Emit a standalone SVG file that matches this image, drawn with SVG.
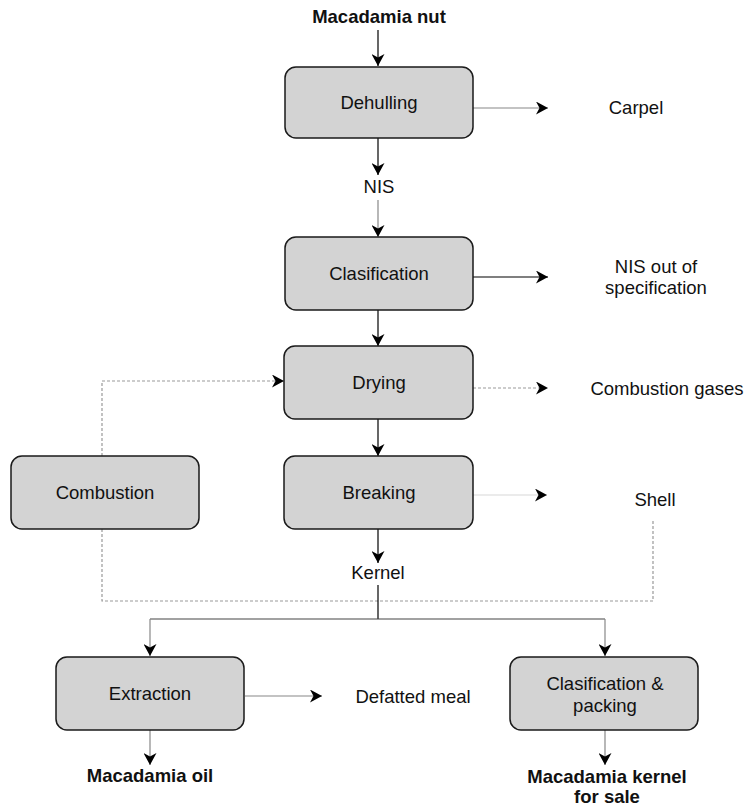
<svg xmlns="http://www.w3.org/2000/svg" width="748" height="807" viewBox="0 0 748 807">
<defs>
<marker id="ah" viewBox="0 0 12 13" refX="12" refY="6.5" markerWidth="12" markerHeight="13" markerUnits="userSpaceOnUse" orient="auto">
<path d="M0,0 L12,6.5 L0,13 L3.5,6.5 Z" fill="#000"/>
</marker>
<style>
.box{fill:#d3d3d3;stroke:#1a1a1a;stroke-width:1.5}
.t{font-family:"Liberation Sans",Arial,sans-serif;font-size:18.5px;fill:#111;text-anchor:middle}
.b{font-weight:bold}
.ln{fill:none;stroke:#000;stroke-width:1.2}
.gr{fill:none;stroke:#888;stroke-width:1.2}
.lt{fill:none;stroke:#d8d8d8;stroke-width:1.2}
.ds{fill:none;stroke:#999;stroke-width:1.2;stroke-dasharray:3,2}
</style>
</defs>
<rect width="748" height="807" fill="#fff"/>
<g id="connectors">
<line class="ln" x1="378" y1="30" x2="378" y2="66" marker-end="url(#ah)"/>
<line class="gr" x1="473" y1="108" x2="548" y2="108" marker-end="url(#ah)"/>
<line class="ln" x1="378" y1="138" x2="378" y2="175" marker-end="url(#ah)"/>
<line class="gr" x1="378" y1="200" x2="378" y2="237" marker-end="url(#ah)"/>
<line class="ln" x1="473" y1="277" x2="548" y2="277" marker-end="url(#ah)"/>
<line class="ln" x1="378" y1="310" x2="378" y2="346" marker-end="url(#ah)"/>
<line class="ds" x1="473" y1="388" x2="548" y2="388" marker-end="url(#ah)"/>
<polyline class="ds" points="102,456 102,381 284,381" marker-end="url(#ah)"/>
<line class="ln" x1="378" y1="419" x2="378" y2="456" marker-end="url(#ah)"/>
<line class="lt" x1="473" y1="495" x2="547" y2="495" marker-end="url(#ah)"/>
<line class="ln" x1="378" y1="529" x2="378" y2="563" marker-end="url(#ah)"/>
<polyline class="ds" points="102,529 102,601 653,601 653,519"/>
<line class="ln" x1="378" y1="585" x2="378" y2="619"/>
<line x1="150" y1="619" x2="605" y2="619" stroke="#444" stroke-width="1.2"/>
<line class="gr" x1="150" y1="619" x2="150" y2="656" marker-end="url(#ah)"/>
<line class="gr" x1="605" y1="619" x2="605" y2="656" marker-end="url(#ah)"/>
<line class="gr" x1="245" y1="696" x2="322" y2="696" marker-end="url(#ah)"/>
<line class="gr" x1="150" y1="730" x2="150" y2="765" marker-end="url(#ah)"/>
<line class="gr" x1="605" y1="730" x2="605" y2="765" marker-end="url(#ah)"/>
</g>
<g id="n-dehulling"><rect class="box" x="285" y="67" width="188" height="71" rx="11"/><text class="t" x="379" y="109">Dehulling</text></g>
<g id="n-clasification"><rect class="box" x="285" y="237" width="188" height="73" rx="11"/><text class="t" x="379" y="280">Clasification</text></g>
<g id="n-drying"><rect class="box" x="284" y="346" width="189" height="73" rx="11"/><text class="t" x="379" y="389">Drying</text></g>
<g id="n-breaking"><rect class="box" x="284" y="456" width="189" height="73" rx="11"/><text class="t" x="379" y="499">Breaking</text></g>
<g id="n-combustion"><rect class="box" x="11" y="456" width="188" height="73" rx="11"/><text class="t" x="105" y="499">Combustion</text></g>
<g id="n-extraction"><rect class="box" x="56" y="657" width="188" height="73" rx="11"/><text class="t" x="150" y="700">Extraction</text></g>
<g id="n-packing"><rect class="box" x="510" y="657" width="188" height="73" rx="11"/><text class="t" x="605" y="690">Clasification &amp;</text><text class="t" x="605" y="712">packing</text></g>
<g id="labels">
<text class="t b" x="379" y="23">Macadamia nut</text>
<text class="t" x="636" y="114">Carpel</text>
<text class="t" x="379" y="193">NIS</text>
<text class="t" x="656" y="273">NIS out of</text>
<text class="t" x="656" y="294">specification</text>
<text class="t" x="667" y="395">Combustion gases</text>
<text class="t" x="655" y="506">Shell</text>
<text class="t" x="378" y="579">Kernel</text>
<text class="t" x="413" y="703">Defatted meal</text>
<text class="t b" x="150" y="782">Macadamia oil</text>
<text class="t b" x="607" y="783">Macadamia kernel</text>
<text class="t b" x="607" y="803">for sale</text>
</g>
</svg>
